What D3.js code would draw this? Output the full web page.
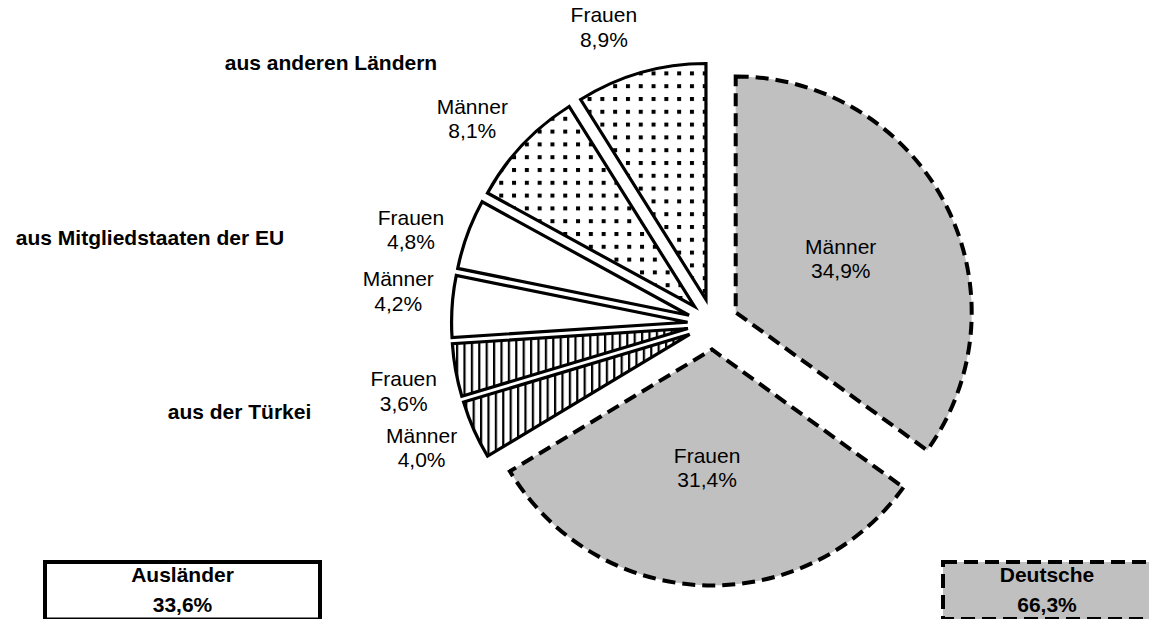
<!DOCTYPE html>
<html>
<head>
<meta charset="utf-8">
<script src="https://cdn.jsdelivr.net/npm/d3@7"></script>
<style>
  html, body { margin: 0; padding: 0; background: #fff; }
  svg { display: block; font-family: "Liberation Sans", Arial, sans-serif; }
</style>
</head>
<body>
<svg id="chart" width="1149" height="619"></svg>
<script>
// Bevölkerung nach Staatsangehörigkeit und Geschlecht (Anteile in %)
const origins = ["Deutsche", "Deutsche", "Türkei", "Türkei", "EU", "EU", "andere", "andere"];
const sexes = ["Männer", "Frauen", "Männer", "Frauen", "Männer", "Frauen", "Männer", "Frauen"];
const shares = [34.9, 31.4, 4.0, 3.6, 4.2, 4.8, 8.1, 8.9];

const groupTitles = ["aus anderen Ländern", "aus Mitgliedstaaten der EU", "aus der Türkei"];
const totalNames = ["Ausländer", "Deutsche"];
const totalShares = [33.6, 66.3];

// ---- layout ----
const W = 1149, H = 619;
const cx = 713, cy = 324, R = 236, explode = 25.5;
const innerLabelR = 118, outerLabelR = 291;
// small angular nudges (degrees) that keep the outside labels apart
const labelNudge = [0, 0, 1.0, -2.2, 2.3, -3.0, -3.1, -4.5];
const fontSize = 21, lineGap = 24.5;

const svg = d3.select("#chart");
const fmt = v => d3.format(".1f")(v).replace(".", ",") + "%";

// ---- fill patterns ----
const defs = svg.append("defs");
const dots = defs.append("pattern")
  .attr("id", "dots").attr("patternUnits", "userSpaceOnUse")
  .attr("x", 624).attr("y", 104.7).attr("width", 12.8).attr("height", 12.8);
dots.append("rect").attr("width", 12.8).attr("height", 12.8).attr("fill", "#fff");
dots.append("rect").attr("width", 4).attr("height", 4).attr("fill", "#000");

const vlines = defs.append("pattern")
  .attr("id", "vlines").attr("patternUnits", "userSpaceOnUse")
  .attr("x", 456.3).attr("y", 0).attr("width", 7.4).attr("height", 10);
vlines.append("rect").attr("width", 7.4).attr("height", 10).attr("fill", "#fff");
vlines.append("rect").attr("width", 2.2).attr("height", 10).attr("fill", "#000");

const fillFor = { Deutsche: "#c0c0c0", "Türkei": "url(#vlines)", EU: "#fff", andere: "url(#dots)" };

// ---- pie ----
const rows = shares.map((v, i) => ({ value: v, origin: origins[i], sex: sexes[i] }));
const pie = d3.pie().sort(null).value(d => d.value).startAngle(0).endAngle(2 * Math.PI);
const arcs = pie(rows);
const arc = d3.arc().innerRadius(0).outerRadius(R);

const mid = d => (d.startAngle + d.endAngle) / 2;
const polar = (a, r) => [r * Math.sin(a), -r * Math.cos(a)];

const g = svg.append("g").attr("transform", `translate(${cx},${cy})`);

const slices = g.selectAll("g.slice").data(arcs).join("g")
  .attr("class", "slice")
  .attr("transform", d => {
    const [dx, dy] = polar(mid(d), explode);
    return `translate(${dx},${dy})`;
  });

slices.append("path")
  .attr("d", arc)
  .attr("fill", d => fillFor[d.data.origin])
  .attr("stroke", "#000")
  .attr("stroke-width", d => d.data.origin === "Deutsche" ? 4 : 3.2)
  .attr("stroke-dasharray", d => d.data.origin === "Deutsche" ? "13 7" : null)
  .attr("stroke-linejoin", "miter");

// ---- slice labels ----
slices.each(function (d, i) {
  const inside = d.data.origin === "Deutsche";
  const a = mid(d) + labelNudge[i] * Math.PI / 180;
  const [x, y] = polar(a, inside ? innerLabelR : outerLabelR);
  const t = d3.select(this).append("text")
    .attr("text-anchor", "middle")
    .attr("font-size", fontSize)
    .attr("fill", "#000");
  t.append("tspan").attr("x", x).attr("y", y - lineGap / 2 + 7.5).text(d.data.sex);
  t.append("tspan").attr("x", x).attr("y", y + lineGap / 2 + 7.5).text(fmt(d.data.value));
});

// ---- group titles ----
const titlePos = [[331, 70], [150, 245], [239.5, 419]];
svg.selectAll("text.group").data(groupTitles).join("text")
  .attr("class", "group")
  .attr("x", (d, i) => titlePos[i][0])
  .attr("y", (d, i) => titlePos[i][1])
  .attr("text-anchor", "middle")
  .attr("font-size", fontSize)
  .attr("font-weight", "bold")
  .text(d => d);

// ---- total boxes ----
const boxes = [
  { x: 45, y: 562, w: 275, h: 57.5, fill: "#fff", dash: null },
  { x: 943, y: 562, w: 208, h: 57, fill: "#c0c0c0", dash: "14 7" }
];
boxes.forEach((b, i) => {
  svg.append("rect")
    .attr("x", b.x).attr("y", b.y).attr("width", b.w).attr("height", b.h)
    .attr("fill", b.fill)
    .attr("stroke", "#000")
    .attr("stroke-width", 4)
    .attr("stroke-dasharray", b.dash);
  const tx = b.x + b.w / 2;
  svg.append("text")
    .attr("x", tx).attr("y", 582)
    .attr("text-anchor", "middle").attr("font-size", fontSize).attr("font-weight", "bold")
    .text(totalNames[i]);
  svg.append("text")
    .attr("x", tx).attr("y", 612)
    .attr("text-anchor", "middle").attr("font-size", fontSize).attr("font-weight", "bold")
    .text(fmt(totalShares[i]));
});
</script>
</body>
</html>
